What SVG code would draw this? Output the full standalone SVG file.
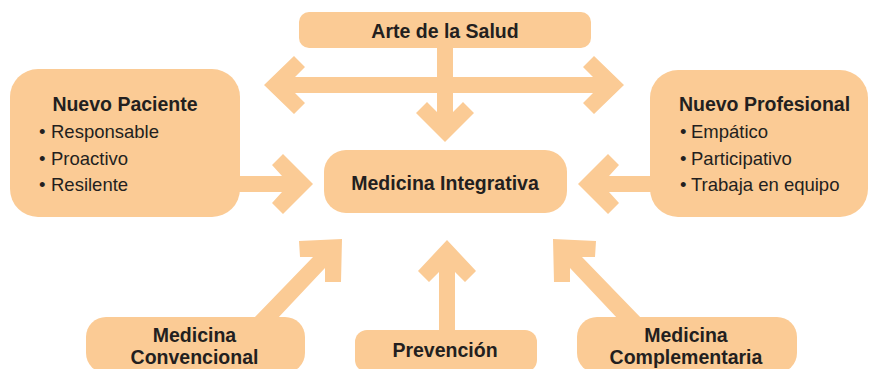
<svg xmlns="http://www.w3.org/2000/svg" width="869" height="369" viewBox="0 0 869 369">
<style>
.box{fill:#FBCB95;}
.arr{fill:#FBCB95;}
.t{font-family:"Liberation Sans",Arial,sans-serif;fill:#231F20;}
.b{font-weight:bold;font-size:19.5px;}
.r{font-size:18.5px;}
</style>
<rect width="869" height="369" fill="#ffffff"/>
<g id="connectors">
<polygon class="arr" points="264,85 294,56 305,67 295,77 593,77 583,67 594,56 624,85 594,114 583,103 593,93 295,93 305,103 294,114"/>
<polygon class="arr" points="437,46 453,46 453,112 463,102 474,113 445,142 416,113 427,102 437,112"/>
<polygon class="arr" points="238,176 282,176 272,165 283,154 313,184 283,214 272,203 282,192 238,192"/>
<polygon class="arr" points="652,176 609,176 619,165 608,154 578,184 608,214 619,203 609,192 652,192"/>
<polygon class="arr" points="439,332 439,272 429,282 418,271 447,240 476,271 465,282 455,272 455,332"/>
<polygon class="arr" points="342,239 341,282 325,282 325,268 277,319 253,319 313,257 300,257 299,241"/>
<polygon class="arr" points="553,239 554,282 570,282 570,268 618,319 642,319 582,257 595,257 596,241"/>
</g>
<g id="arte">
<rect class="box" x="299" y="12" width="292" height="36" rx="10"/>
<text class="t b" x="445" y="38" text-anchor="middle">Arte de la Salud</text>
</g>
<g id="paciente">
<rect class="box" x="10" y="69" width="230" height="148" rx="28"/>
<text class="t b" x="125" y="111" text-anchor="middle">Nuevo Paciente</text>
<text class="t r" x="39" y="138">•</text><text class="t r" x="51" y="138">Responsable</text>
<text class="t r" x="39" y="165">•</text><text class="t r" x="51" y="165">Proactivo</text>
<text class="t r" x="39" y="191">•</text><text class="t r" x="51" y="191">Resilente</text>
</g>
<g id="profesional">
<rect class="box" x="650" y="70" width="218" height="147" rx="28"/>
<text class="t b" x="764.5" y="111" text-anchor="middle">Nuevo Profesional</text>
<text class="t r" x="680" y="138">•</text><text class="t r" x="691" y="138">Empático</text>
<text class="t r" x="680" y="165">•</text><text class="t r" x="691" y="165">Participativo</text>
<text class="t r" x="680" y="191">•</text><text class="t r" x="691" y="191">Trabaja en equipo</text>
</g>
<g id="integrativa">
<rect class="box" x="324" y="150" width="243" height="63" rx="22"/>
<text class="t b" x="445" y="190" text-anchor="middle">Medicina Integrativa</text>
</g>
<g id="convencional">
<rect class="box" x="86" y="317" width="219" height="56" rx="20"/>
<text class="t b" x="194.5" y="342" text-anchor="middle">Medicina</text>
<text class="t b" x="194.5" y="364" text-anchor="middle">Convencional</text>
</g>
<g id="prevencion">
<rect class="box" x="355" y="330" width="182" height="42" rx="12"/>
<text class="t b" x="445" y="357" text-anchor="middle">Prevención</text>
</g>
<g id="complementaria">
<rect class="box" x="577" y="317" width="220" height="56" rx="20"/>
<text class="t b" x="686" y="342" text-anchor="middle">Medicina</text>
<text class="t b" x="686" y="364" text-anchor="middle">Complementaria</text>
</g>
</svg>
